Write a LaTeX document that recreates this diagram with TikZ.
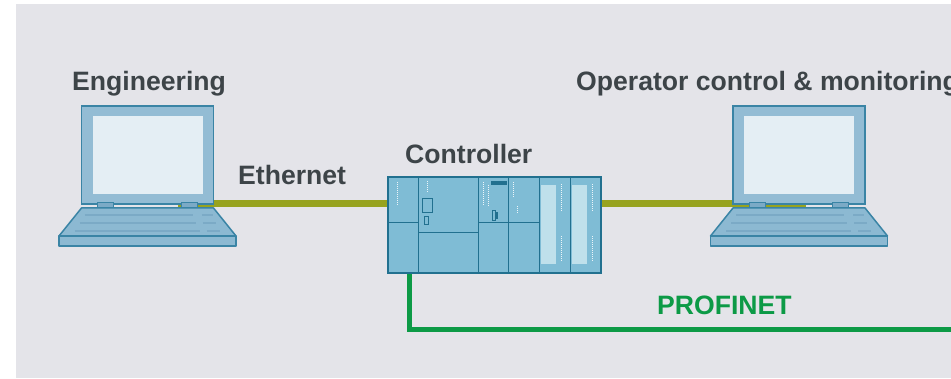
\documentclass[tikz,border=0pt]{standalone}
\usepackage{fontspec}
\setmainfont{Liberation Sans}
\usepackage{tikz}
\usetikzlibrary{backgrounds}
\definecolor{panelgrey}{HTML}{E4E4E9}
\definecolor{labelgrey}{HTML}{3D4448}
\definecolor{ethcol}{HTML}{97A31F}
\definecolor{pncol}{HTML}{0C9A46}
\definecolor{lapedge}{HTML}{3A84A5}
\definecolor{lapframe}{HTML}{93BCD4}
\definecolor{lapglass}{HTML}{E4EEF4}
\definecolor{lapkey}{HTML}{8CB9D2}
\definecolor{lapline}{HTML}{7BAAC6}
\definecolor{plcedge}{HTML}{21708F}
\definecolor{plcfill}{HTML}{7FBCD5}
\definecolor{plclight}{HTML}{BFE0EB}

\begin{document}
\begin{tikzpicture}[
        x=1pt, y=-1pt,
        lbl/.style={font=\fontsize{26.6}{30}\selectfont\bfseries, text=labelgrey,
                    inner sep=0pt, anchor=base west},
        scr/.style={rectangle, draw=lapedge, fill=lapframe, line width=1.5pt,
                    minimum width=132pt, minimum height=98pt, inner sep=0pt},
        glass/.style={rectangle, fill=lapglass, minimum width=110pt,
                      minimum height=78pt, inner sep=0pt},
        hinge/.style={rectangle, draw=lapedge, fill=lapline, line width=1pt,
                      minimum width=16pt, minimum height=5pt, inner sep=0pt},
        kbd/.style={draw=lapedge, fill=lapkey, line width=1.5pt, line join=round},
        keyrow/.style={draw=lapline, line width=2pt},
        plc/.style={rectangle, draw=plcedge, fill=plcfill, line width=1.5pt,
                    minimum width=213pt, minimum height=96pt, inner sep=0pt},
        plcline/.style={draw=plcedge, line width=1.3pt},
        leds/.style={draw=white!85!plcfill, line width=0.8pt, dash pattern=on 1pt off 1pt},
        ethline/.style={draw=ethcol, line width=7pt},
        pnline/.style={draw=pncol, line width=5pt}
    ]
    \useasboundingbox (0,0) rectangle (951,379);

    % --- Laptops: engineering station and HMI ---
    \foreach \nm/\cx in {eng/147.5, hmi/799}{
        \node[scr] (\nm-scr) at (\cx,155) {};
        \node[glass] (\nm-glass) at (\nm-scr.center) {};
        \begin{scope}[shift={(\cx,0)}]
            \draw[kbd] (-66,208) -- (66,208) -- (88.5,236) -- (-88.5,236) -- cycle;
            \draw[kbd] (-88.5,236) rectangle (88.5,246);
            \draw[keyrow] (-63,215) -- (45,215) (54,215) -- (65,215);
            \draw[keyrow] (-68,223) -- (48,223) (55,223) -- (68,223);
            \draw[keyrow] (-73,231) -- (52,231) (59,231) -- (72,231);
            \node[hinge] (\nm-hl) at (-42,205.5) {};
            \node[hinge] (\nm-hr) at (41.5,205.5) {};
        \end{scope}
        % cable port just above the screen's lower edge
        \coordinate (\nm-port) at ([yshift=1pt]\nm-scr.south);
    }

    % --- Controller rack ---
    \node[plc] (plc) at (494.5,225) {};
    \begin{scope}[shift={(plc.north west)}]
        \fill[plclight] (154,9) rectangle (169,88);
        \fill[plclight] (185,9) rectangle (200,88);
        \foreach \dx in {31,91,121,152,183}
            \draw[plcline] (\dx,0) -- (\dx,96);
        \draw[plcline] (0,46) -- (31,46);
        \draw[plcline] (31,56) -- (91,56);
        \draw[plcline] (91,46) -- (152,46);
        \draw[plcedge, line width=1pt] (35,22) rectangle (45,36);
        \draw[plcedge, line width=1pt] (37,40) rectangle (41,48);
        \fill[plcedge] (104,5) rectangle (120,9);
        \draw[plcedge, line width=0.8pt] (105,34) rectangle (108,44);
        \fill[plcedge] (108,36) rectangle (111,43);
        \draw[leds] (10,6) -- (10,30);
        \draw[leds] (40,5) -- (40,17);
        \draw[leds] (96,6) -- (96,30);
        \draw[leds] (101,9) -- (101,30);
        \draw[leds] (126,6) -- (126,22) (130,30) -- (130,38);
        \draw[leds] (174,8) -- (174,35) (174,60) -- (174,85);
        \draw[leds] (205,8) -- (205,35) (205,60) -- (205,85);
    \end{scope}

    % --- Labels ---
    \node[lbl] (eng-lbl) at (72,91) {Engineering};
    \node[lbl] (hmi-lbl) at (576,91) {Operator control \& monitoring};
    \node[lbl] (eth-lbl) at (238,185) {Ethernet};
    \node[lbl] (plc-lbl) at (405,164) {Controller};
    \node[lbl, text=pncol] (pn-lbl) at (657,315) {PROFINET};

    \coordinate (pn-end) at (951,330);

    % --- Network lines behind the devices ---
    \begin{scope}[on background layer]
        \fill[panelgrey] (16,4) rectangle (951,378);
        \draw[ethline] ([xshift=30pt]eng-port) -- (plc.west |- eng-port);
        \draw[ethline] (plc.east |- hmi-port) -- ([xshift=7pt]hmi-port);
        \draw[pnline] ([xshift=22pt]plc.south west) |- (pn-end);
    \end{scope}
\end{tikzpicture}
\end{document}
